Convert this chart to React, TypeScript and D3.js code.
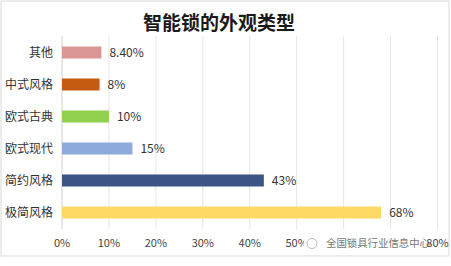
import React from "react";
import * as d3 from "d3";

const categories = ["其他", "中式风格", "欧式古典", "欧式现代", "简约风格", "极简风格"];
const values = [8.4, 8, 10, 15, 43, 68];
const valueLabels = ["8.40%", "8%", "10%", "15%", "43%", "68%"];
const colors = ["#DA9694", "#C55A11", "#92D050", "#8EA9DB", "#3C5486", "#FFD966"];
const ticks = [0, 10, 20, 30, 40, 50, 60, 70, 80];
const title = "智能锁的外观类型";
const watermark = "全国锁具行业信息中心";

const W = 451;
const H = 266;
const FONT = "'Noto Sans CJK SC', 'Noto Sans', sans-serif";

export default function App() {
  const x = d3.scaleLinear().domain([0, 80]).range([62, 437.5]);
  const y = d3.scaleBand<string>().domain(categories).range([36.5, 228.5]).paddingInner(0.625).paddingOuter(0.3125);
  const bh = 12;

  return (
    <svg width={W} height={H} style={{ position: "absolute", left: 0, top: 0, background: "#fff" }}>
      <rect x={1} y={1} width={448} height={255} fill="#fff" stroke="#D9D9D9" strokeWidth={1} />
      <text x={219} y={30} textAnchor="middle" fontFamily={FONT} fontSize={19} fontWeight="bold" fill="#1a1a1a">
        {title}
      </text>
      {ticks.slice(1).map((t) => (
        <line key={t} x1={x(t)} x2={x(t)} y1={36} y2={229} stroke="#E6E6E6" strokeWidth={1} />
      ))}
      <line x1={x(0)} x2={x(0)} y1={36} y2={229} stroke="#D0D0D0" strokeWidth={1} />
      {categories.map((c, i) => {
        const cy = (y(c) as number) + y.bandwidth() / 2;
        return (
          <g key={c}>
            <rect x={x(0)} y={cy - bh / 2} width={x(values[i]) - x(0)} height={bh} fill={colors[i]} />
            <text x={x(0) - 9} y={cy} dy="0.35em" textAnchor="end" fontFamily={FONT} fontSize={12} fill="#333">
              {c}
            </text>
            <text x={x(values[i]) + 8} y={cy} dy="0.35em" fontFamily={FONT} fontSize={12} fill="#333">
              {valueLabels[i]}
            </text>
          </g>
        );
      })}
      {ticks.map((t) => (
        <text key={t} x={x(t)} y={243} dy="0.35em" textAnchor="middle" fontFamily={FONT} fontSize={11} fill="#444">
          {t + "%"}
        </text>
      ))}
      <rect x={304} y={234} width={122} height={18} fill="#fff" opacity={0.9} />
      <circle cx={312} cy={243.5} r={5} fill="none" stroke="#BBB" strokeWidth={1} />
      <text x={326} y={243} dy="0.35em" fontFamily={FONT} fontSize={10.5} fill="#777" textLength={104} lengthAdjust="spacingAndGlyphs">
        {watermark}
      </text>
    </svg>
  );
}
